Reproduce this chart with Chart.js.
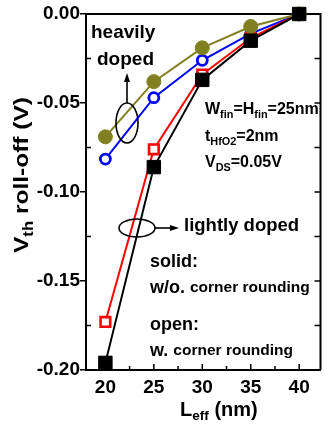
<!DOCTYPE html>
<html>
<head>
<meta charset="utf-8">
<script src="https://cdn.jsdelivr.net/npm/chart.js@4/dist/chart.umd.min.js"></script>
<style>
  html, body { margin: 0; padding: 0; background: #fff; overflow: hidden; }
  #wrap { width: 329px; height: 427px; overflow: hidden; position: relative; }
  canvas { display: block; }
</style>
</head>
<body>
<div id="wrap"><canvas id="c" width="331" height="427"></canvas></div>
<script>
// Effective gate length (nm)
const lengths = [20, 25, 30, 35, 40];
// Threshold-voltage roll-off (V)
const heavySolid = [-0.069, -0.038, -0.019, -0.007, 0];     // heavily doped, w/o corner rounding
const heavyOpen  = [-0.0815, -0.047, -0.026, -0.011, 0];    // heavily doped, w. corner rounding
const lightSolid = [-0.196, -0.086, -0.037, -0.015, 0];     // lightly doped, w/o corner rounding
const lightOpen  = [-0.173, -0.076, -0.034, -0.0135, 0];    // lightly doped, w. corner rounding
// Axis tick labels
const xTickValues = [20, 25, 30, 35, 40];
const yTickValues = [0, -0.05, -0.10, -0.15, -0.20];
const xMinorValues = [22.5, 27.5, 32.5, 37.5];
const yMinorValues = [-0.025, -0.075, -0.125, -0.175];

const FONT = '"Liberation Sans", Arial, sans-serif';
const OLIVE = '#808020';

const pts = arr => lengths.map((x, i) => ({ x, y: arr[i] }));

// Draw a run of text pieces, some of them subscripts; returns the run width
function richText(ctx, pieces, x, y, size, measureOnly) {
  let cx = x;
  for (const p of pieces) {
    const s = p.sub ? size * 0.68 : (p.size || size);
    ctx.font = `bold ${s}px ${FONT}`;
    const w = ctx.measureText(p.t).width;
    if (!measureOnly) ctx.fillText(p.t, cx, p.sub ? y + size * 0.32 : y);
    cx += w;
  }
  return cx - x;
}

const decorations = {
  id: 'decorations',
  beforeDatasetsDraw(chart) {
    const { ctx, chartArea: a, scales: { x, y } } = chart;
    ctx.save();
    ctx.strokeStyle = '#000';
    ctx.lineWidth = 2;
    // top and right frame
    ctx.beginPath();
    ctx.moveTo(a.left, a.top);
    ctx.lineTo(a.right, a.top);
    ctx.lineTo(a.right, a.bottom);
    ctx.stroke();
    ctx.lineWidth = 1.5;
    ctx.beginPath();
    // inward x ticks
    for (const v of xTickValues) { const px = x.getPixelForValue(v); ctx.moveTo(px, a.bottom); ctx.lineTo(px, a.bottom - 6); }
    for (const v of xMinorValues) { const px = x.getPixelForValue(v); ctx.moveTo(px, a.bottom); ctx.lineTo(px, a.bottom - 4); }
    // inward minor y ticks on the left, all ticks on the right
    for (const v of yMinorValues) { const py = y.getPixelForValue(v); ctx.moveTo(a.left, py); ctx.lineTo(a.left + 5, py); }
    for (const v of yTickValues.concat(yMinorValues)) { const py = y.getPixelForValue(v); ctx.moveTo(a.right, py); ctx.lineTo(a.right - 6, py); }
    ctx.stroke();
    ctx.restore();
  },
  afterDraw(chart) {
    const { ctx } = chart;
    ctx.save();
    ctx.fillStyle = '#000';
    ctx.strokeStyle = '#000';
    ctx.textBaseline = 'middle';
    ctx.textAlign = 'left';

    // heavily doped group marker
    ctx.lineWidth = 1.6;
    ctx.beginPath();
    ctx.ellipse(127, 123, 11, 20, 0, 0, Math.PI * 2);
    ctx.stroke();
    ctx.beginPath();
    ctx.moveTo(127, 103); ctx.lineTo(127, 80); ctx.stroke();
    ctx.beginPath();
    ctx.moveTo(127, 73); ctx.lineTo(124, 82); ctx.lineTo(130, 82); ctx.closePath(); ctx.fill();

    // lightly doped group marker
    ctx.beginPath();
    ctx.ellipse(137, 228, 18, 9, 0, 0, Math.PI * 2);
    ctx.stroke();
    ctx.beginPath();
    ctx.moveTo(155, 228); ctx.lineTo(172, 228); ctx.stroke();
    ctx.beginPath();
    ctx.moveTo(179, 228); ctx.lineTo(170, 225); ctx.lineTo(170, 231); ctx.closePath(); ctx.fill();

    richText(ctx, [{ t: 'heavily' }], 91, 33, 19);
    richText(ctx, [{ t: 'doped' }], 97, 60, 19);

    richText(ctx, [{ t: 'W' }, { t: 'fin', sub: true }, { t: '=H' }, { t: 'fin', sub: true }, { t: '=25nm' }], 205, 110, 16);
    richText(ctx, [{ t: 't' }, { t: 'HfO2', sub: true }, { t: '=2nm' }], 205, 137, 16);
    richText(ctx, [{ t: 'V' }, { t: 'DS', sub: true }, { t: '=0.05V' }], 205, 163, 16);

    richText(ctx, [{ t: 'lightly doped' }], 184, 226, 18.5);
    richText(ctx, [{ t: 'solid:' }], 150, 262, 18);
    richText(ctx, [{ t: 'w/o. ' }, { t: 'corner rounding', size: 15.5 }], 150, 288, 18);
    richText(ctx, [{ t: 'open:' }], 150, 325, 18);
    richText(ctx, [{ t: 'w. ' }, { t: 'corner rounding', size: 15.5 }], 150, 351, 18);

    // axis titles
    richText(ctx, [{ t: 'L' }, { t: 'eff', sub: true }, { t: ' (nm)' }], 180, 410, 20);
    const yt = [{ t: 'V' }, { t: 'th', sub: true }, { t: ' roll-off (V)' }];
    const w = richText(ctx, yt, 0, 0, 21, true);
    const stretch = 156 / w;
    ctx.translate(22, 175);
    ctx.rotate(-Math.PI / 2);
    ctx.scale(stretch, 1);
    richText(ctx, yt, -w / 2, 0, 21);
    ctx.restore();
  }
};

new Chart(document.getElementById('c'), {
  type: 'line',
  data: {
    datasets: [
      { data: pts(lightSolid), borderColor: '#000', borderWidth: 2, pointStyle: 'rect', pointRadius: 9.5,
        pointBackgroundColor: '#000', pointBorderColor: '#000', pointBorderWidth: 1, clip: false },
      { data: pts(heavySolid), borderColor: OLIVE, borderWidth: 2, pointStyle: 'circle', pointRadius: 7,
        pointBackgroundColor: OLIVE, pointBorderColor: OLIVE, pointBorderWidth: 1, clip: false },
      { data: pts(lightOpen), borderColor: '#f00', borderWidth: 2, pointStyle: 'rect', pointRadius: 6.8,
        pointBackgroundColor: '#fff', pointBorderColor: '#f00', pointBorderWidth: 2.6, clip: false },
      { data: pts(heavyOpen), borderColor: '#00f', borderWidth: 2, pointStyle: 'circle', pointRadius: 5,
        pointBackgroundColor: '#fff', pointBorderColor: '#00f', pointBorderWidth: 2.8, clip: false }
    ]
  },
  options: {
    responsive: false,
    animation: false,
    devicePixelRatio: 1,
    layout: { padding: { top: 14, left: 0, right: 0, bottom: 0 } },
    plugins: { legend: { display: false }, tooltip: { enabled: false } },
    elements: { line: { tension: 0 } },
    scales: {
      x: {
        type: 'linear', min: 18, max: 42.2,
        afterBuildTicks: s => { s.ticks = xTickValues.map(v => ({ value: v })); },
        afterFit: s => { s.height = 57; },
        grid: { display: false, drawTicks: false },
        border: { display: true, color: '#000', width: 2 },
        ticks: { color: '#000', padding: 6, maxRotation: 0, font: { family: FONT, size: 19, weight: 'bold' },
                 callback: v => String(v) }
      },
      y: {
        type: 'linear', min: -0.2, max: 0,
        afterBuildTicks: s => { s.ticks = yTickValues.map(v => ({ value: v })); },
        afterFit: s => { s.width = 86; },
        grid: { display: true, drawOnChartArea: false, drawTicks: true, tickLength: 6, color: '#000', lineWidth: 1.5 },
        border: { display: true, color: '#000', width: 2 },
        ticks: { color: '#000', padding: 0, font: { family: FONT, size: 19, weight: 'bold' },
                 callback: v => v.toFixed(2) }
      }
    }
  },
  plugins: [decorations]
});
</script>
</body>
</html>
